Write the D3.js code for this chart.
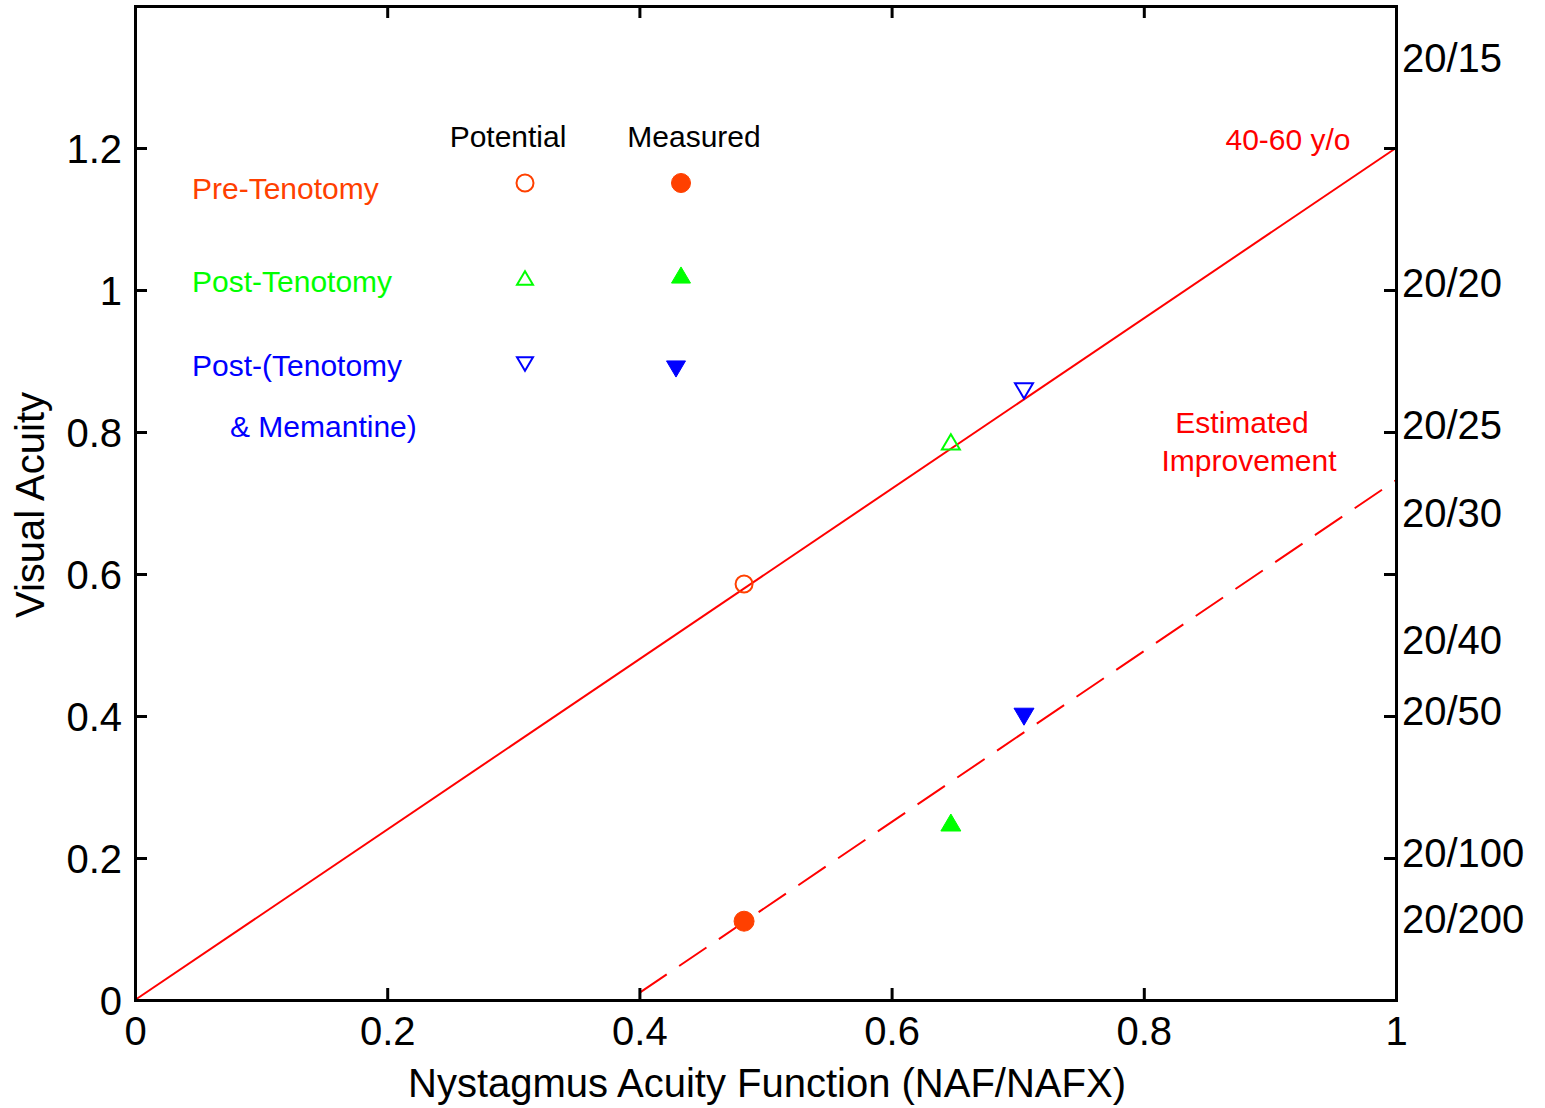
<!DOCTYPE html>
<html>
<head>
<meta charset="utf-8">
<script src="https://cdn.jsdelivr.net/npm/d3@7"></script>
<style>
  html, body { margin: 0; padding: 0; background: #fff; }
  svg { display: block; font-family: "Liberation Sans", Arial, sans-serif; }
</style>
</head>
<body>
<svg id="chart" width="1545" height="1108"></svg>
<script>
// ---------- data ----------
const xTicks = [0, 0.2, 0.4, 0.6, 0.8, 1];
const xTickLabels = ["0", "0.2", "0.4", "0.6", "0.8", "1"];
const yTicks = [0, 0.2, 0.4, 0.6, 0.8, 1, 1.2];
const yTickLabels = ["0", "0.2", "0.4", "0.6", "0.8", "1", "1.2"];
const snellenLabels = ["20/15", "20/20", "20/25", "20/30", "20/40", "20/50", "20/100", "20/200"];
const snellenValues = [1.328, 1.01, 0.811, 0.686, 0.507, 0.408, 0.208, 0.114];

const solidLineX = [0, 1];
const solidLineY = [0, 1.2];
const dashedLineX = [0.4, 1];
const dashedLineY = [0.01, 0.732];

const seriesNames = ["Pre-Tenotomy", "Post-Tenotomy", "Post-(Tenotomy"];
const seriesColors = ["#ff4000", "#00ff00", "#0000ff"];
const seriesShapes = ["circle", "up", "down"];
const nafx = [0.483, 0.647, 0.705];
const potentialAcuity = [0.586, 0.786, 0.858];
const measuredAcuity = [0.111, 0.25, 0.399];

// ---------- layout ----------
const svg = d3.select("#chart");
const x = d3.scaleLinear().domain([0, 1]).range([135, 1396]);
const y = d3.scaleLinear().domain([0, 1.4]).range([1000, 6]);

// marker paths
function markerPath(shape, size) {
  if (shape === "circle") {
    const r = size / 2;
    return `M${-r},0A${r},${r} 0 1,0 ${r},0A${r},${r} 0 1,0 ${-r},0Z`;
  }
  const w = size, h = size * 0.85;
  if (shape === "up") return `M0,${-h/2}L${w/2},${h/2}L${-w/2},${h/2}Z`;
  return `M0,${h/2}L${w/2},${-h/2}L${-w/2},${-h/2}Z`;
}

// ---------- lines ----------
const line = d3.line().x(d => x(d[0])).y(d => y(d[1]));
svg.append("path")
  .attr("d", line(d3.zip(solidLineX, solidLineY)))
  .attr("fill", "none").attr("stroke", "#ff0000").attr("stroke-width", 2);
svg.append("path")
  .attr("d", line(d3.zip(dashedLineX, dashedLineY)))
  .attr("fill", "none").attr("stroke", "#ff0000").attr("stroke-width", 2)
  .attr("stroke-dasharray", "33,15");

// ---------- data markers ----------
const pts = seriesNames.map((n, i) => ({i, x: nafx[i], p: potentialAcuity[i], m: measuredAcuity[i]}));
svg.selectAll(".pot").data(pts).join("path")
  .attr("transform", d => `translate(${x(d.x)},${y(d.p)})`)
  .attr("d", d => markerPath(seriesShapes[d.i], d.i === 0 ? 17 : 18))
  .attr("fill", "none").attr("stroke", d => seriesColors[d.i]).attr("stroke-width", 2);
svg.selectAll(".meas").data(pts).join("path")
  .attr("transform", d => `translate(${x(d.x)},${y(d.m)})`)
  .attr("d", d => markerPath(seriesShapes[d.i], 20))
  .attr("fill", d => seriesColors[d.i]).attr("stroke", d => seriesColors[d.i]).attr("stroke-width", 1);

// ---------- axes ----------
const axisFont = 40;
const gB = svg.append("g").attr("transform", `translate(0,${y(0)})`)
  .call(d3.axisBottom(x).tickValues(xTicks).tickFormat((d, i) => xTickLabels[i]).tickSize(-12).tickPadding(16));
const gT = svg.append("g").attr("transform", `translate(0,${y(1.4)})`)
  .call(d3.axisTop(x).tickValues(xTicks).tickFormat("").tickSize(-12));
const gL = svg.append("g").attr("transform", `translate(${x(0)},0)`)
  .call(d3.axisLeft(y).tickValues(yTicks).tickFormat((d, i) => yTickLabels[i]).tickSize(-12).tickPadding(13));
const gR = svg.append("g").attr("transform", `translate(${x(1)},0)`)
  .call(d3.axisRight(y).tickValues(yTicks).tickFormat("").tickSize(-12));
[gB, gT, gL, gR].forEach(g => {
  g.select(".domain").attr("stroke", "#000").attr("stroke-width", 3);
  g.selectAll(".tick line").attr("stroke", "#000").attr("stroke-width", 3);
  g.selectAll(".tick text").attr("fill", "#000").attr("font-size", axisFont)
    .attr("font-family", "Liberation Sans, Arial, sans-serif");
});
gB.selectAll(".tick text").attr("dy", "0.72em");
gL.selectAll(".tick text").attr("dy", "0.36em");

// right-side Snellen labels
svg.selectAll(".snellen").data(snellenLabels).join("text")
  .attr("x", x(1) + 6)
  .attr("y", (d, i) => y(snellenValues[i]))
  .attr("dy", "0.36em")
  .attr("font-size", axisFont)
  .attr("fill", "#000")
  .text(d => d);

// axis titles
svg.append("text").attr("x", 767).attr("y", 1083).attr("dy", "0.36em")
  .attr("text-anchor", "middle").attr("font-size", 40).text("Nystagmus Acuity Function (NAF/NAFX)");
svg.append("text").attr("transform", "translate(30,505) rotate(-90)").attr("dy", "0.36em")
  .attr("text-anchor", "middle").attr("font-size", 40).text("Visual Acuity");

// ---------- legend ----------
const lf = 30;
svg.append("text").attr("x", 508).attr("y", 136).attr("dy", "0.36em").attr("text-anchor", "middle")
  .attr("font-size", lf).text("Potential");
svg.append("text").attr("x", 694).attr("y", 136).attr("dy", "0.36em").attr("text-anchor", "middle")
  .attr("font-size", lf).text("Measured");
const legY = [188, 281, 365];
svg.selectAll(".legtext").data(seriesNames).join("text")
  .attr("x", 192).attr("y", (d, i) => legY[i]).attr("dy", "0.36em")
  .attr("font-size", lf).attr("fill", (d, i) => seriesColors[i]).text(d => d);
svg.append("text").attr("x", 230).attr("y", 426).attr("dy", "0.36em")
  .attr("font-size", lf).attr("fill", seriesColors[2]).text("& Memantine)");
const legOpen = [[525, 183], [525, 278], [525, 364]];
const legFill = [[681, 183], [681, 275], [676, 369]];
svg.selectAll(".legopen").data(seriesNames).join("path")
  .attr("transform", (d, i) => `translate(${legOpen[i][0]},${legOpen[i][1]})`)
  .attr("d", (d, i) => markerPath(seriesShapes[i], i === 0 ? 17 : 16))
  .attr("fill", "none").attr("stroke", (d, i) => seriesColors[i]).attr("stroke-width", 2);
svg.selectAll(".legfill").data(seriesNames).join("path")
  .attr("transform", (d, i) => `translate(${legFill[i][0]},${legFill[i][1]})`)
  .attr("d", (d, i) => markerPath(seriesShapes[i], 19))
  .attr("fill", (d, i) => seriesColors[i]).attr("stroke", (d, i) => seriesColors[i]);

// annotations
svg.append("text").attr("x", 1288).attr("y", 139).attr("dy", "0.36em").attr("text-anchor", "middle")
  .attr("font-size", lf).attr("fill", "#ff0000").text("40-60 y/o");
svg.append("text").attr("x", 1242).attr("y", 422).attr("dy", "0.36em").attr("text-anchor", "middle")
  .attr("font-size", lf).attr("fill", "#ff0000").text("Estimated");
svg.append("text").attr("x", 1249).attr("y", 460).attr("dy", "0.36em").attr("text-anchor", "middle")
  .attr("font-size", lf).attr("fill", "#ff0000").text("Improvement");
</script>
</body>
</html>
